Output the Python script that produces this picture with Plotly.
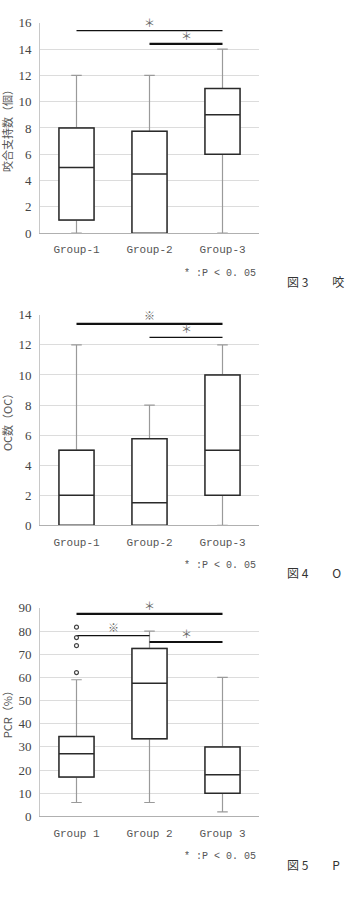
import plotly.graph_objects as go

W, H = 347, 909

groups_a = ["Group-1", "Group-2", "Group-3"]
groups_b = ["Group 1", "Group 2", "Group 3"]
xpos = [0, 1, 2]

# Panel 1: 咬合支持数
p1_min = [0, 0, 0]
p1_q1 = [1, 0, 6]
p1_med = [5, 4.5, 9]
p1_q3 = [8, 7.75, 11]
p1_max = [12, 12, 14]

# Panel 2: OC数
p2_min = [0, 0, 0]
p2_q1 = [0, 0, 2]
p2_med = [2, 1.5, 5]
p2_q3 = [5, 5.75, 10]
p2_max = [12, 8, 12]

# Panel 3: PCR
p3_min = [6, 6, 2]
p3_q1 = [17, 33.5, 10]
p3_med = [27, 57.5, 18]
p3_q3 = [34.5, 72.5, 30]
p3_max = [59, 80, 60]
p3_out_x = [0, 0, 0, 0]
p3_out_y = [81.7, 77.2, 73.7, 62.1]

# significance bars: (from, to, level, mark, width)
sig1 = [(0, 2, 15.4, "＊", 1.2), (1, 2, 14.4, "＊", 2.2)]
sig2 = [(0, 2, 13.4, "※", 2.2), (1, 2, 12.5, "＊", 1.2)]
sig3 = [(0, 2, 87.4, "＊", 2.2), (0, 1, 78.0, "※", 1.2), (1, 2, 75.3, "＊", 2.2)]

ytitles = ["咬合支持数（個）", "OC数（OC）", "PCR（%）"]
captions = ["図 3　　咬", "図 4　　O", "図 5　　P"]
note_text = "* :P < 0. 05"
yranges = [[0, 16], [0, 14], [0, 90]]
ydticks = [2, 2, 10]

# pixel layout
px_left, px_right = 40, 259
panels_px = [(16, 230), (313, 527), (611, 823)]
note_px = [271, 568, 864]
cap_px = [279, 575, 872]


def py(p):
    return 1 - p / H


fig = go.Figure()
panels = [
    (p1_min, p1_q1, p1_med, p1_q3, p1_max, groups_a, sig1),
    (p2_min, p2_q1, p2_med, p2_q3, p2_max, groups_a, sig2),
    (p3_min, p3_q1, p3_med, p3_q3, p3_max, groups_b, sig3),
]

ann = []
for i, (mn, q1, med, q3, mx, labels, sig) in enumerate(panels):
    k = "" if i == 0 else str(i + 1)
    xa, ya = "x" + k, "y" + k
    # whiskers (gray)
    fig.add_trace(go.Box(x=xpos, q1=q1, median=med, q3=q3, lowerfence=mn, upperfence=mx,
                         xaxis=xa, yaxis=ya, width=0.48, whiskerwidth=0.3,
                         line=dict(color="#9a9a9a", width=1.2), fillcolor="white",
                         hoverinfo="skip", showlegend=False))
    # box (dark)
    fig.add_trace(go.Box(x=xpos, q1=q1, median=med, q3=q3, lowerfence=q1, upperfence=q3,
                         xaxis=xa, yaxis=ya, width=0.48, whiskerwidth=0,
                         line=dict(color="#2a2a2a", width=1.5), fillcolor="white",
                         hoverinfo="skip", showlegend=False))
    for (a, b, lv, mark, lw) in sig:
        fig.add_trace(go.Scatter(x=[a, b], y=[lv, lv], mode="lines", xaxis=xa, yaxis=ya,
                                 line=dict(color="#111", width=lw), hoverinfo="skip",
                                 showlegend=False, cliponaxis=False))
        ann.append(dict(x=(a + b) / 2, y=lv, xref=xa, yref=ya, text=mark, showarrow=False,
                        yshift=9, font=dict(family="Noto Sans CJK JP", size=11, color="#666")))
    t, b_ = panels_px[i]
    fig.layout["xaxis" + k] = dict(domain=[px_left / W, px_right / W], range=[-0.5, 2.5],
                                   anchor=ya, tickvals=xpos, ticktext=labels, showgrid=False,
                                   zeroline=False, showline=True, linecolor="#b0b0b0",
                                   linewidth=1, ticks="", ticklabelstandoff=6,
                                   tickfont=dict(family="Liberation Mono", size=11, color="#555"))
    fig.layout["yaxis" + k] = dict(domain=[py(b_), py(t)], range=yranges[i], dtick=ydticks[i],
                                   anchor=xa, showgrid=True, gridcolor="#dcdcdc", gridwidth=1,
                                   zeroline=False, showline=True, linecolor="#c8c8c8",
                                   ticks="", ticklabelstandoff=5,
                                   tickfont=dict(family="Liberation Serif", size=13, color="#444"))
    ann.append(dict(x=7 / W, y=py((t + b_) / 2), xref="paper", yref="paper", text=ytitles[i],
                    textangle=-90, showarrow=False, xanchor="center", yanchor="middle",
                    font=dict(family="Noto Sans CJK JP", size=11, color="#555")))
    ann.append(dict(x=258 / W, y=py(note_px[i]), xref="paper", yref="paper",
                    text=note_text, showarrow=False, xanchor="right", yanchor="middle",
                    font=dict(family="Liberation Mono", size=10, color="#555")))
    ann.append(dict(x=285 / W, y=py(cap_px[i]), xref="paper", yref="paper",
                    text=captions[i], showarrow=False, xanchor="left", yanchor="middle",
                    font=dict(family="Noto Sans CJK JP", size=12, color="#333")))

fig.add_trace(go.Scatter(x=p3_out_x, y=p3_out_y, mode="markers", xaxis="x3", yaxis="y3",
                         marker=dict(symbol="circle-open", size=4, color="#444",
                                     line=dict(width=1.2, color="#444")),
                         hoverinfo="skip", showlegend=False))

fig.update_layout(width=W, height=H, margin=dict(l=0, r=0, t=0, b=0),
                  paper_bgcolor="white", plot_bgcolor="white", boxmode="overlay",
                  annotations=ann)

fig.write_html("out.html")
